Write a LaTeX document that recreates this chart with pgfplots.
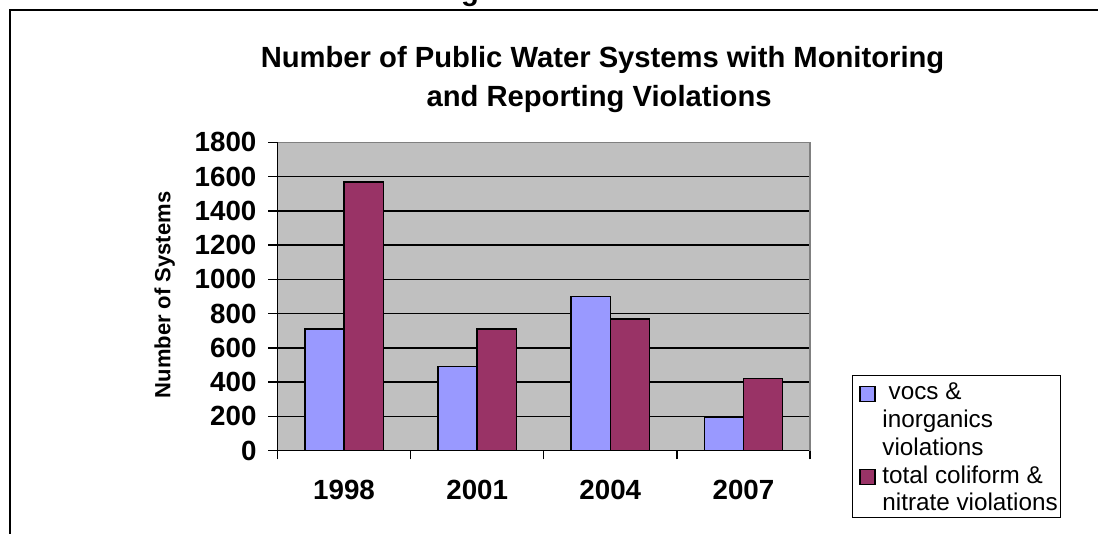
\documentclass[border=0pt]{standalone}
\usepackage{fontspec}
\setmainfont{Liberation Sans}
\usepackage{pgfplots}
\pgfplotsset{compat=1.18}
\definecolor{bgray}{RGB}{192,192,192}
\definecolor{vblue}{RGB}{153,153,255}
\definecolor{vmar}{RGB}{153,51,102}
\definecolor{fgray}{RGB}{128,128,128}
\pgfplotsset{
  sqblue/.style={legend image code/.code={\draw[draw=black,fill=vblue,line width=1pt] (3.7pt,-0.9pt) rectangle (14.95pt,10.35pt); \path[draw=none,fill=none] (0pt,0pt) -- (20.5pt,0pt);}},
  sqmar/.style={legend image code/.code={\draw[draw=black,fill=vmar,line width=1pt] (3.7pt,-0.9pt) rectangle (14.95pt,10.35pt); \path[draw=none,fill=none] (0pt,0pt) -- (20.5pt,0pt);}},
}
\begin{document}
\begin{tikzpicture}
\useasboundingbox (0,0) rectangle (823.5pt,399.75pt);
\draw[line width=1.5pt] (7.5pt,-5pt) -- (7.5pt,392.25pt) -- (830pt,392.25pt);
\node[anchor=base, font=\bfseries\fontsize{21.9}{25}\selectfont] at (352.5pt,399pt) {g};
\node[anchor=base, font=\bfseries\fontsize{21.9}{25}\selectfont] at (451.9pt,349.3pt) {Number of Public Water Systems with Monitoring};
\node[anchor=base, font=\bfseries\fontsize{21.9}{25}\selectfont] at (449.3pt,319.7pt) {and Reporting Violations};
\begin{axis}[
  at={(208.125pt,61.725pt)}, anchor=south west,
  width=399.375pt, height=231.3pt, scale only axis,
  xmin=-0.5, xmax=3.5, ymin=0, ymax=1800,
  axis lines=left, axis line style={-, line width=1.1pt, black},
  axis background/.style={fill=bgray},
  ybar, bar width=29.4pt,
  ytick={0,200,...,1800},
  xtick={0,1,2,3}, xticklabels={1998,2001,2004,2007},
  minor xtick={-0.5,0.5,1.5,2.5,3.5},
  major x tick style={draw=none},
  tick align=outside,
  major tick length=6.9pt, minor tick length=6.5pt,
  tick style={line width=1.1pt, black},
  ymajorgrids, grid style={line width=1.1pt, black},
  /pgf/number format/assume math mode=true,
  /pgf/number format/1000 sep={},
  tick label style={font=\bfseries\fontsize{20.8}{24}\selectfont},
  yticklabel style={inner sep=0pt, anchor=east, xshift=-8.7pt},
  xticklabel style={inner sep=0pt, anchor=north, yshift=-14.6pt},
  ylabel={Number of Systems},
  ylabel style={at={(axis description cs:-0.2118,0.505)}, anchor=center, rotate=0, font=\bfseries\fontsize{16.5}{20}\selectfont},
  after end axis/.code={\draw[fgray, line width=1.1pt] (rel axis cs:0,1) -- (rel axis cs:1,1) -- (rel axis cs:1,0);},
  legend style={at={(axis description cs:1.0783,0.2455)}, anchor=north west, draw=black, line width=1.1pt, fill=white,
    inner xsep=2pt, inner ysep=1.1pt, row sep=0pt, column sep=0pt,
    font=\fontsize{18.2}{22}\selectfont, nodes={inner sep=0pt, text height=17.1pt, text depth=3.7pt}, cells={anchor=base west}},
]
\addplot[fill=vblue, draw=black, line width=1.1pt, bar shift=-14.7pt, sqblue] coordinates {(0,710) (1,490) (2,900) (3,195)};
\addlegendentry{\hspace*{4.7pt}vocs \&}
\addlegendimage{empty legend}
\addlegendentry{inorganics}
\addlegendimage{empty legend}
\addlegendentry{violations}
\addplot[fill=vmar, draw=black, line width=1.1pt, bar shift=14.7pt, sqmar] coordinates {(0,1567) (1,710) (2,770) (3,420)};
\addlegendentry{total coliform \&}
\addlegendimage{empty legend}
\addlegendentry{nitrate violations}
\end{axis}
\end{tikzpicture}
\end{document}
